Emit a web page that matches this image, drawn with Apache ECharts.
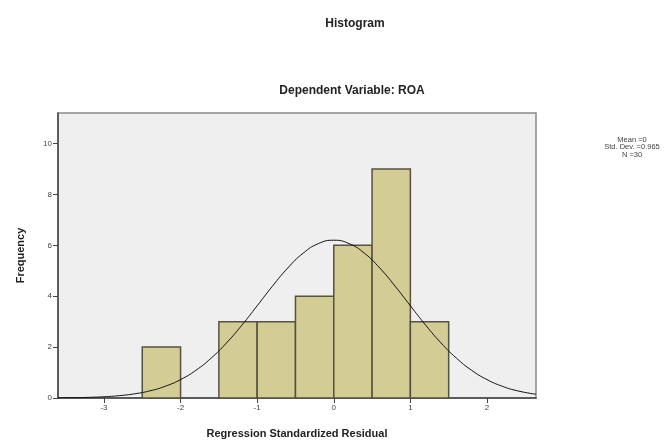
<!DOCTYPE html>
<html><head><meta charset="utf-8">
<script src="https://cdn.jsdelivr.net/npm/echarts@6/dist/echarts.min.js"></script>
<style>html,body{margin:0;padding:0;background:#fff}#c{width:667px;height:445px}</style>
</head><body><div id="c"></div>
<script>
// Histogram bins (start, end) and frequencies
const binStarts = [-2.5, -1.5, -1.0, -0.5, 0.0, 0.5, 1.0];
const binEnds   = [-2.0, -1.0, -0.5, 0.0, 0.5, 1.0, 1.5];
const frequencies = [2, 3, 3, 4, 6, 9, 3];
// Normal curve points
const curveX = [-3.6,-3.4,-3.2,-3.0,-2.8,-2.6,-2.4,-2.2,-2.0,-1.8,-1.6,-1.4,-1.2,-1.0,-0.8,-0.6,-0.4,-0.2,0,0.2,0.4,0.6,0.8,1.0,1.2,1.4,1.6,1.8,2.0,2.2,2.4,2.64];
const curveY = [0.006,0.013,0.025,0.049,0.092,0.164,0.281,0.461,0.724,1.088,1.569,2.165,2.861,3.625,4.397,5.110,5.690,6.068,6.2,6.068,5.690,5.110,4.397,3.625,2.861,2.165,1.569,1.088,0.724,0.461,0.281,0.147];
const xTicks = [-3, -2, -1, 0, 1, 2];
const yTicks = [0, 2, 4, 6, 8, 10];
const statsLines = ['Mean =0', 'Std. Dev. =0.965', 'N =30'];

const chart = echarts.init(document.getElementById('c'));
const barData = binStarts.map((s, i) => [s, binEnds[i], frequencies[i]]);
const lineData = curveX.map((x, i) => [x, curveY[i]]);
const font = 'Liberation Sans, Arial, sans-serif';

chart.setOption({
  animation: false,
  backgroundColor: '#ffffff',
  title: [
    { text: 'Histogram', left: 350, top: 13, textAlign: 'center',
      textStyle: { fontFamily: font, fontSize: 12, fontWeight: 'bold', color: '#222' } },
    { text: 'Dependent Variable: ROA', left: 347, top: 80, textAlign: 'center',
      textStyle: { fontFamily: font, fontSize: 12, fontWeight: 'bold', color: '#222' } },
    { text: statsLines.join('\n'), left: 627, top: 131, textAlign: 'center',
      textStyle: { fontFamily: font, fontSize: 7.5, fontWeight: 'normal', color: '#444', lineHeight: 7.5, align: 'center' } }
  ],
  grid: { left: 58, right: 131, top: 113, bottom: 47, show: true,
    backgroundColor: '#efefef', borderColor: '#8a8a8a', borderWidth: 1.5 },
  xAxis: {
    type: 'value', min: -3.6, max: 2.64,
    name: 'Regression Standardized Residual', nameLocation: 'middle', nameGap: 30,
    nameTextStyle: { fontFamily: font, fontSize: 11, fontWeight: 'bold', color: '#222' },
    axisLine: { show: true, onZero: false, lineStyle: { color: '#444', width: 1.5 } },
    axisTick: { show: true, length: 5, customValues: xTicks, lineStyle: { color: '#444' } },
    axisLabel: { customValues: xTicks, fontFamily: font, fontSize: 8, color: '#444', margin: 6 },
    splitLine: { show: false }
  },
  yAxis: {
    type: 'value', min: 0, max: 11.2,
    name: 'Frequency', nameLocation: 'middle', nameGap: 32, nameRotate: 90,
    nameTextStyle: { fontFamily: font, fontSize: 11, fontWeight: 'bold', color: '#222' },
    axisLine: { show: true, onZero: false, lineStyle: { color: '#444', width: 1.5 } },
    axisTick: { show: true, length: 5, customValues: yTicks, lineStyle: { color: '#444' } },
    axisLabel: { customValues: yTicks, fontFamily: font, fontSize: 8, color: '#444', margin: 6 },
    splitLine: { show: false }
  },
  series: [
    {
      type: 'custom',
      data: barData,
      encode: { x: [0, 1], y: 2 },
      renderItem: function (params, api) {
        const p0 = api.coord([api.value(0), 0]);
        const p1 = api.coord([api.value(1), api.value(2)]);
        return {
          type: 'rect',
          shape: { x: p0[0], y: p1[1], width: p1[0] - p0[0], height: p0[1] - p1[1] },
          style: { fill: '#d3cc95', stroke: '#55533f', lineWidth: 1.5 }
        };
      },
      z: 2
    },
    {
      type: 'line',
      data: lineData,
      smooth: true,
      showSymbol: false,
      lineStyle: { color: '#111', width: 1 },
      z: 3
    }
  ]
});
</script></body></html>
